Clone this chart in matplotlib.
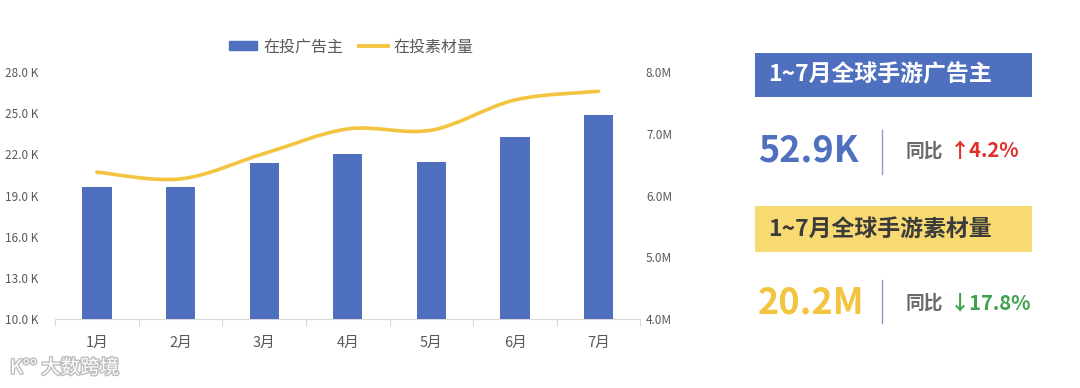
import matplotlib
matplotlib.use('Agg')
import matplotlib.pyplot as plt
import matplotlib.patheffects as pe
from matplotlib.path import Path
from matplotlib.patches import PathPatch, Rectangle
from matplotlib.lines import Line2D
import numpy as np

plt.rcParams['font.family'] = ['Noto Sans CJK SC', 'DejaVu Sans']

months = ['1月', '2月', '3月', '4月', '5月', '6月', '7月']
advertisers_k = [19.6, 19.6, 21.4, 22.0, 21.45, 23.3, 24.9]   # 在投广告主 (K)
creatives_m = [6.38, 6.27, 6.68, 7.08, 7.06, 7.55, 7.69]       # 在投素材量 (M)
left_ticks = [10, 13, 16, 19, 22, 25, 28]
right_ticks = [4, 5, 6, 7, 8]

blue = '#4F6FBF'
yellow = '#F3C43F'
grey = '#595959'

fig = plt.figure(figsize=(10.8, 3.88), dpi=100)
ax = fig.add_axes([0.051, 0.178, 0.542, 0.636])
ax2 = ax.twinx()

x = np.arange(len(months))
ax.bar(x, advertisers_k, width=0.35, color=blue, zorder=3)
ax.set_ylim(10, 28)
ax.set_xlim(-0.5, len(months) - 0.5)
ax.set_yticks(left_ticks)
ax.set_yticklabels([f'{v:.1f} K' for v in left_ticks])
ax.set_xticks(x)
ax.set_xticklabels(months)
ax.set_xticks(np.arange(-0.5, len(months)), minor=True)
ax.tick_params(axis='x', which='major', length=0, pad=12, labelsize=10.5, labelcolor=grey)
ax.tick_params(axis='x', which='minor', length=5, color='#d9d9d9', width=0.8)
ax.tick_params(axis='y', length=0, labelsize=8.5, labelcolor=grey, pad=12)
for s in ['top', 'right', 'left']:
    ax.spines[s].set_visible(False)
ax.spines['bottom'].set_color('#d9d9d9')

# smoothed line (bezier through the data points)
pts = list(zip(x, creatives_m))
verts = [pts[0]]
codes = [Path.MOVETO]
n = len(pts)
for i in range(n - 1):
    p0 = np.array(pts[max(i - 1, 0)])
    p1 = np.array(pts[i])
    p2 = np.array(pts[i + 1])
    p3 = np.array(pts[min(i + 2, n - 1)])
    c1 = p1 + (p2 - p0) / 6
    c2 = p2 - (p3 - p1) / 6
    verts += [tuple(c1), tuple(c2), tuple(p2)]
    codes += [Path.CURVE4] * 3
ax2.add_patch(PathPatch(Path(verts, codes), facecolor='none', edgecolor=yellow,
                        lw=2.6, capstyle='round', zorder=4))
ax2.set_ylim(4, 8)
ax2.set_yticks(right_ticks)
ax2.set_yticklabels([f'{v:.1f}M' for v in right_ticks])
ax2.tick_params(axis='y', length=0, labelsize=8.5, labelcolor=grey, pad=4)
for s in ['top', 'right', 'left', 'bottom']:
    ax2.spines[s].set_visible(False)

handles = [Rectangle((0, 0), 1, 1, color=blue),
           Line2D([0], [0], color=yellow, lw=2.8)]
fig.legend(handles, ['在投广告主', '在投素材量'], loc='center', bbox_to_anchor=(0.325, 0.879),
           ncol=2, frameon=False, fontsize=11.5, labelcolor=grey, handlelength=1.8,
           handleheight=0.45, columnspacing=1.0, handletextpad=0.35)

# right panel
fig.patches.append(Rectangle((755 / 1080, 1 - 97 / 388), 277 / 1080, 44 / 388,
                             transform=fig.transFigure, facecolor=blue, edgecolor='none'))
fig.text(768 / 1080, 1 - 75 / 388, '1~7月全球手游广告主', fontsize=16.5, fontweight='bold',
         color='white', va='center', ha='left')
fig.text(758 / 1080, 1 - 151 / 388, '52.9K', fontsize=26, fontweight='bold',
         color=blue, va='center', ha='left')
fig.add_artist(Line2D([882 / 1080] * 2, [1 - 130 / 388, 1 - 174 / 388], color='#8a9bc7', lw=1))
fig.text(906 / 1080, 1 - 151 / 388, '同比', fontsize=13.5, fontweight='bold',
         color='#6b6b6b', va='center', ha='left')
fig.text(950 / 1080, 1 - 151 / 388, '↑4.2%', fontsize=14.5, fontweight='bold',
         color='#E0302A', va='center', ha='left')

fig.patches.append(Rectangle((755 / 1080, 1 - 252 / 388), 277 / 1080, 46 / 388,
                             transform=fig.transFigure, facecolor='#F8DA72', edgecolor='none'))
fig.text(768 / 1080, 1 - 229 / 388, '1~7月全球手游素材量', fontsize=16.5, fontweight='bold',
         color='#3b3b3b', va='center', ha='left')
fig.text(758 / 1080, 1 - 303 / 388, '20.2M', fontsize=26, fontweight='bold',
         color=yellow, va='center', ha='left')
fig.add_artist(Line2D([882 / 1080] * 2, [1 - 280 / 388, 1 - 323 / 388], color='#8a9bc7', lw=1))
fig.text(906 / 1080, 1 - 303 / 388, '同比', fontsize=13.5, fontweight='bold',
         color='#6b6b6b', va='center', ha='left')
fig.text(950 / 1080, 1 - 303 / 388, '↓17.8%', fontsize=14.5, fontweight='bold',
         color='#3FA34D', va='center', ha='left')

# bottom-left logo
fig.text(10 / 1080, 1 - 368 / 388, 'K°° 大数跨境', fontsize=14, color='white',
         va='center', ha='left',
         path_effects=[pe.withStroke(linewidth=2, foreground='#bdbdbd')])

fig.savefig('out.png', dpi=100, facecolor='white')
